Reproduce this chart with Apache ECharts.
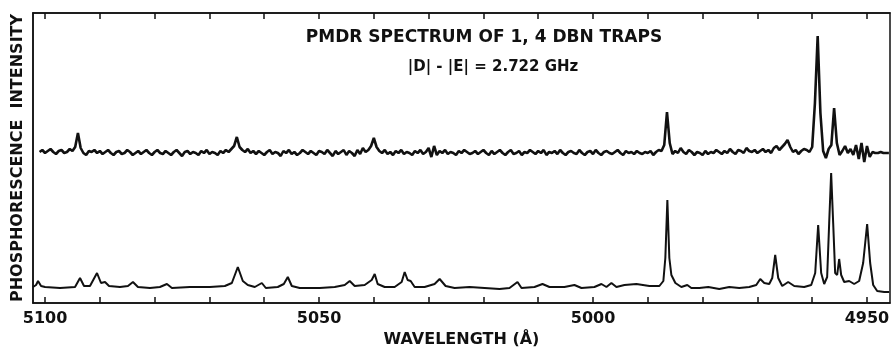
<!DOCTYPE html>
<html>
<head>
<meta charset="utf-8">
<script src="https://cdn.jsdelivr.net/npm/echarts@6/dist/echarts.min.js"></script>
<style>
  html, body { margin: 0; padding: 0; background: #fff; }
  #main { width: 892px; height: 349px; }
</style>
</head>
<body>
<div id="main"></div>
<script>
// axis ticks (wavelength, Å)
const tickValues = [4950, 4960, 4970, 4980, 4990, 5000, 5010, 5020, 5030, 5040, 5050, 5060, 5070, 5080, 5090, 5100];
const labelValues = [4950, 5000, 5050, 5100];

// upper trace (PMDR), sampled every 0.5 Å starting at 5101 Å
const upperStart = 5101;
const upperStep = 0.5;
const upperValues = [
  151,153,150,152,154,151,149,152,153,150, 151,154,152,156,170,155,150,148,152,151,
  153,150,152,149,151,153,150,148,151,152, 149,150,153,151,148,150,152,149,151,153,
  150,148,151,153,150,149,152,150,148,151, 153,150,147,151,152,149,151,150,148,152,
  150,153,149,151,150,148,152,150,153,151, 154,157,166,156,153,151,154,150,152,149,
  152,150,148,151,153,149,151,150,147,152, 150,153,149,151,148,150,153,151,149,152,
  150,148,152,151,149,153,150,147,152,149, 151,153,148,152,150,147,153,149,155,151,
  153,157,165,156,152,150,153,149,151,148, 152,150,153,149,151,150,148,152,150,153,
  149,151,155,146,157,148,152,150,153,149, 151,150,148,152,150,153,151,149,150,152,
  149,151,153,150,148,152,149,151,153,150, 148,151,153,149,150,152,148,151,150,153,
  151,149,152,150,153,148,151,150,152,149, 153,150,148,151,152,150,149,153,150,148,
  151,152,149,153,150,148,151,152,150,149, 151,153,150,148,152,150,151,149,152,150,
  149,151,150,152,148,151,153,152,158,191, 160,149,152,150,155,151,149,153,151,148,
  151,150,148,152,149,151,150,153,151,149, 152,150,154,151,149,153,152,150,155,152,
  151,153,150,152,154,151,153,150,155,157, 153,156,159,163,156,151,153,149,152,154,
  153,151,156,200,267,190,152,145,154,158, 195,160,148,152,157,150,154,148,158,144,
  160,141,157,146,151,150,150,151,150,150, 150
];

// lower trace (phosphorescence), read point by point
const lowerWavelengths = [
  5102.2, 5101.64, 5101.28, 5100.73, 5100, 5097.27, 5094.53, 5093.62, 5092.89, 5091.8,
  5090.52, 5089.79, 5089.06, 5088.33, 5086.33, 5084.87, 5083.96, 5083.05, 5080.86, 5079.04,
  5077.76, 5076.85, 5073.57, 5069.92, 5067.19, 5065.91, 5064.82, 5063.91, 5063.0, 5061.72,
  5060.44, 5059.71, 5057.53, 5056.43, 5055.7, 5054.97, 5053.52, 5049.87, 5047.14, 5045.31,
  5044.4, 5043.49, 5041.67, 5040.39, 5039.84, 5039.3, 5038.02, 5036.2, 5034.92, 5034.37,
  5033.83, 5033.28, 5032.55, 5030.73, 5028.91, 5027.99, 5026.9, 5025.26, 5022.52, 5019.79,
  5017.06, 5015.24, 5013.78, 5013.05, 5010.68, 5009.22, 5007.95, 5005.21, 5003.39, 5002.11,
  4999.74, 4998.46, 4997.55, 4996.64, 4995.73, 4994.27, 4992.08, 4989.71, 4987.89, 4987.16,
  4986.8, 4986.43, 4986.07, 4985.7, 4984.97, 4983.88, 4982.79, 4982.06, 4980.6, 4978.96,
  4976.96, 4975.13, 4973.31, 4971.49, 4970.21, 4969.48, 4968.75, 4967.84, 4967.29, 4966.75,
  4966.2, 4965.47, 4964.38, 4963.28, 4961.46, 4960.18, 4959.45, 4958.91, 4958.36, 4957.81,
  4957.27, 4956.9, 4956.54, 4956.17, 4955.81, 4955.44, 4955.08, 4954.71, 4954.16, 4953.25,
  4952.34, 4951.43, 4950.7, 4949.97, 4949.42, 4948.87, 4948.14, 4946.86, 4945.95
];
const lowerValues = [
  16, 18, 22, 17, 16, 15, 16, 25, 17, 17,
  30, 20, 21, 17, 16, 17, 21, 16, 15, 16,
  19, 15, 16, 16, 17, 20, 36, 22, 18, 16,
  20, 15, 16, 19, 26, 17, 15, 15, 16, 18,
  22, 17, 18, 23, 29, 19, 16, 16, 21, 31,
  23, 22, 16, 16, 19, 24, 17, 15, 16, 15,
  14, 15, 21, 15, 16, 19, 16, 16, 18, 15,
  16, 19, 16, 20, 16, 18, 19, 17, 17, 22,
  45, 103, 45, 28, 20, 16, 18, 15, 15, 16,
  14, 16, 15, 16, 18, 24, 20, 19, 25, 48,
  25, 17, 21, 17, 16, 18, 30, 78, 30, 19,
  26, 80, 130, 80, 30, 28, 44, 28, 21, 22,
  19, 22, 40, 79, 40, 18, 12, 11, 11
];

const FONT = 'DejaVu Sans';
const INK = '#111';

const upperData = upperValues.map((v, i) => [upperStart - i * upperStep, v]);
const lowerData = lowerWavelengths.map((w, i) => [w, lowerValues[i]]);

const chart = echarts.init(document.getElementById('main'), null, { renderer: 'canvas' });

const baseX = {
  type: 'value',
  min: 4945.8,
  max: 5102.2,
  inverse: true,
  splitLine: { show: false },
  axisLine: { show: true, onZero: false, lineStyle: { color: INK, width: 1.5 } },
  axisTick: { show: true, inside: true, length: 6, customValues: tickValues, lineStyle: { color: INK, width: 1.5 } }
};

chart.setOption({
  animation: false,
  backgroundColor: '#fff',
  grid: { left: 33, right: 2, top: 13, bottom: 46, show: true, borderColor: INK, borderWidth: 1.5,
    containLabel: false, outerBoundsMode: 'none' },
  title: [
    { text: 'PMDR SPECTRUM OF 1, 4 DBN TRAPS', left: 484, top: 29, textAlign: 'center', padding: 0,
      textStyle: { fontFamily: FONT, fontSize: 17, fontWeight: 'bold', color: INK } },
    { text: '|D| - |E| = 2.722 GHz', left: 493, top: 60, textAlign: 'center', padding: 0,
      textStyle: { fontFamily: FONT, fontSize: 15, fontWeight: 'bold', color: INK } }
  ],
  xAxis: [
    Object.assign({}, baseX, {
      position: 'bottom',
      name: 'WAVELENGTH (Å)',
      nameLocation: 'middle',
      nameGap: 29,
      nameTextStyle: { fontFamily: FONT, fontSize: 16, fontWeight: 'bold', color: INK },
      axisLabel: { show: true, customValues: labelValues, margin: 8, formatter: v => String(v),
        fontFamily: FONT, fontSize: 16, fontWeight: 'bold', color: INK }
    }),
    Object.assign({}, baseX, {
      position: 'top',
      axisLabel: { show: false }
    })
  ],
  yAxis: {
    type: 'value',
    min: 0,
    max: 290,
    name: 'PHOSPHORESCENCE  INTENSITY',
    nameLocation: 'middle',
    nameGap: 7,
    nameTextStyle: { fontFamily: FONT, fontSize: 16, fontWeight: 'bold', color: INK },
    splitLine: { show: false },
    axisLabel: { show: false },
    axisTick: { show: false },
    axisLine: { show: true, lineStyle: { color: INK, width: 1.5 } }
  },
  series: [
    {
      type: 'line', name: 'PMDR', data: upperData, showSymbol: false,
      lineStyle: { color: INK, width: 2.6 }, z: 3
    },
    {
      type: 'line', name: 'phosphorescence', data: lowerData, showSymbol: false,
      lineStyle: { color: INK, width: 2 }, z: 3
    }
  ]
});
</script>
</body>
</html>
